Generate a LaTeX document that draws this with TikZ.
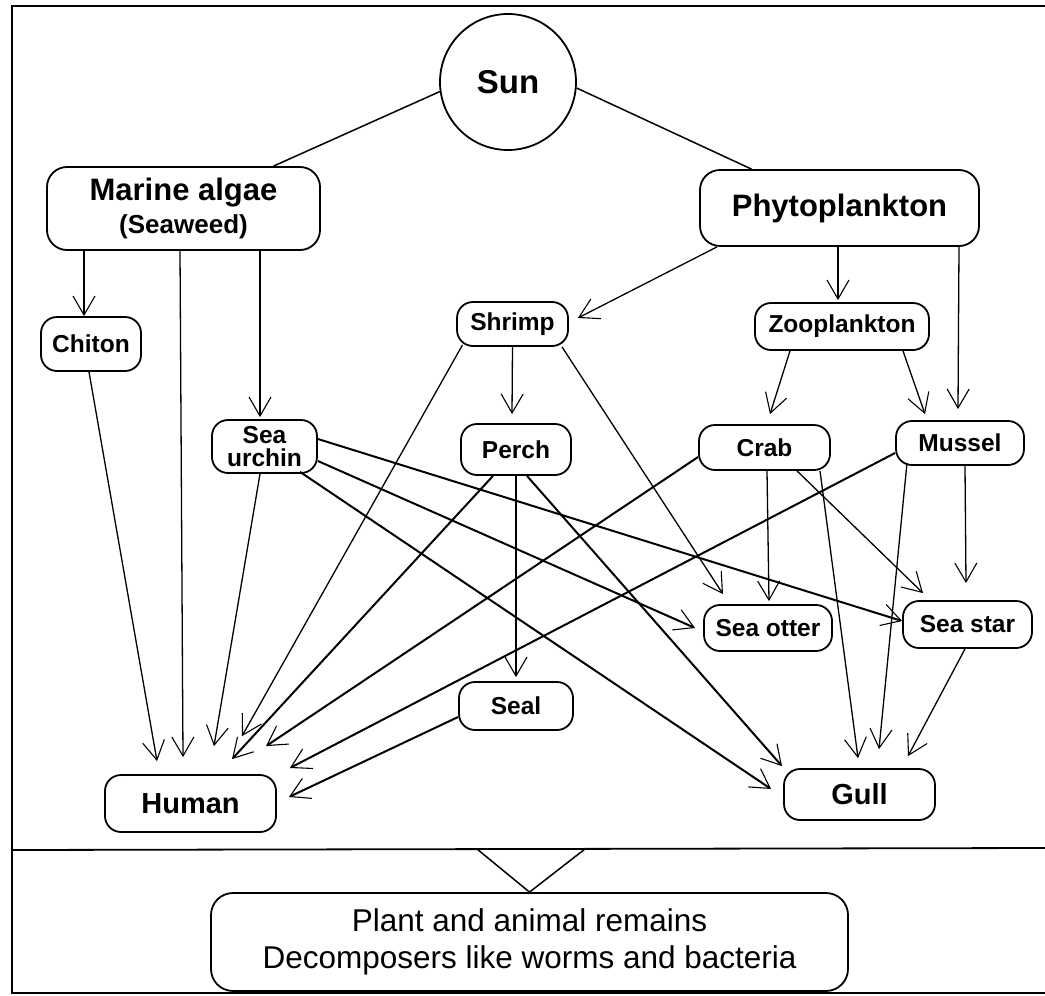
\documentclass[tikz,border=0pt]{standalone}
\usepackage{fontspec}
\setmainfont{Liberation Sans}
\usetikzlibrary{arrows.meta}

\tikzset{
  being/.style={rectangle, rounded corners=16pt, draw=black, line width=1.8pt, inner sep=0pt, align=center, font=\bfseries\fontsize{24.5}{21}\selectfont},
  feed/.style={->, line width=1.3pt},
  feedbold/.style={->, line width=2pt},
}

\begin{document}
\begin{tikzpicture}[x=1pt, y=-1pt, >={Straight Barb[length=19pt, width=22pt, line width=1.1pt]}]
\useasboundingbox (0,0) rectangle (1045,996);

\draw[line width=1.8pt] (1045,6) -- (12,6) -- (12,993) -- (1045,993);
\draw[line width=1.8pt] (12,850) -- (1045,848);

\node[circle, draw=black, line width=1.8pt, minimum size=136pt, inner sep=0pt, font=\bfseries\fontsize{33}{36}\selectfont] (sun) at (508,82) {Sun};
\node[being, rounded corners=20pt, minimum width=273pt, minimum height=83pt, font=\bfseries\fontsize{31}{33}\selectfont] (algae) at (183.5,208.5) {Marine algae\\{\fontsize{26}{33}\selectfont (Seaweed)}};
\node[being, rounded corners=20pt, minimum width=279pt, minimum height=76pt, font=\bfseries\fontsize{31}{34}\selectfont] (phyto) at (839.5,208) {Phytoplankton};

\node[being, minimum width=100pt, minimum height=54pt] (chiton) at (91,344) {Chiton};
\node[being, minimum width=111pt, minimum height=44pt] (shrimp) at (512.5,324) {Shrimp};
\node[being, minimum width=174pt, minimum height=47pt] (zoopl) at (842,326.5) {Zooplankton};
\node[being, minimum width=105pt, minimum height=53pt, font=\bfseries\fontsize{24.5}{23}\selectfont] (urchin) at (264.5,446.5) {Sea\\urchin};
\node[being, minimum width=110pt, minimum height=51pt] (perch) at (516,449.5) {Perch};
\node[being, minimum width=131pt, minimum height=45pt] (crab) at (764.5,447.5) {Crab};
\node[being, minimum width=128pt, minimum height=44pt] (mussel) at (960,443) {Mussel};
\node[being, minimum width=128pt, minimum height=46pt] (otter) at (768,628) {Sea otter};
\node[being, minimum width=129pt, minimum height=47pt] (seastar) at (967.5,624.5) {Sea star};
\node[being, minimum width=114pt, minimum height=48pt] (seal) at (516,706) {Seal};
\node[being, minimum width=171pt, minimum height=57pt, font=\bfseries\fontsize{29}{32}\selectfont] (human) at (190.5,803.5) {Human};
\node[being, minimum width=151pt, minimum height=51pt, font=\bfseries\fontsize{29}{32}\selectfont] (gull) at (859.5,794.5) {Gull};
\node[being, rounded corners=22pt, minimum width=637pt, minimum height=98pt, font=\fontsize{31.5}{37}\selectfont] (decomp) at (529.5,942) {Plant and animal remains\\Decomposers like worms and bacteria};

\draw[line width=1.5pt] (sun.188) -- ([xshift=90pt]algae.north);
\draw[line width=1.5pt] (sun.355) -- ([xshift=-88pt]phyto.north);

\draw[feed] ([xshift=-99.5pt]algae.south) -- ([xshift=-7pt]chiton.north);
\draw[feed] ([xshift=-3.5pt]algae.south) -- ([xshift=-7.5pt,yshift=17pt]human.north);
\draw[feed] ([xshift=76.5pt]algae.south) -- ([xshift=-4.5pt,yshift=2pt]urchin.north);

\draw[feed] ([xshift=-122.5pt]phyto.south) -- ([xshift=9pt,yshift=6pt]shrimp.east);
\draw[feed] ([xshift=-1.5pt]phyto.south) -- ([xshift=-4pt,yshift=2pt]zoopl.north);
\draw[feed] ([xshift=119.5pt]phyto.south) -- ([xshift=-2pt,yshift=11pt]mussel.north);

\draw[feed] ([xshift=-2pt]chiton.south) -- ([xshift=-33.5pt,yshift=13pt]human.north);

\draw[feed] (shrimp.south) -- ([xshift=-4pt,yshift=9pt]perch.north);
\draw[feed] ([xshift=-50pt,yshift=2pt]shrimp.south) -- ([xshift=51.5pt,yshift=38pt]human.north);
\draw[feed] ([xshift=49.5pt]shrimp.south) -- ([xshift=-45pt,yshift=10pt]otter.north);

\draw[feed] ([xshift=-52pt]zoopl.south) -- ([xshift=5.5pt,yshift=10pt]crab.north);
\draw[feed] ([xshift=61pt]zoopl.south) -- ([xshift=-35pt,yshift=6pt]mussel.north);

\draw[feed] ([xshift=-4.5pt]urchin.south) -- ([xshift=23.5pt,yshift=28pt]human.north);
\draw[feedbold] ([xshift=35.5pt,yshift=2pt]urchin.south) -- ([xshift=-12pt,yshift=5.5pt]gull.west);
\draw[feedbold] ([yshift=-14.5pt]urchin.east) -- ([xshift=-8pt]otter.west);
\draw[feedbold] ([yshift=7.5pt]urchin.east) -- ([yshift=3.5pt]seastar.west);

\draw[feedbold] ([xshift=-23pt]perch.south) -- ([xshift=41.5pt,yshift=15pt]human.north);
\draw[feed] (perch.south) -- ([yshift=4pt]seal.north);
\draw[feedbold] ([xshift=11pt]perch.south) -- ([xshift=-77.5pt,yshift=2pt]gull.north);

\draw[feedbold] ([yshift=-9.5pt]crab.west) -- ([xshift=75.5pt,yshift=28pt]human.north);
\draw[feed] ([xshift=2.5pt]crab.south) -- ([xshift=1pt,yshift=3pt]otter.north);
\draw[feed] ([xshift=32.5pt]crab.south) -- ([xshift=-44.5pt,yshift=7pt]seastar.north);
\draw[feed] ([xshift=55.5pt]crab.south) -- ([xshift=-1.5pt,yshift=10pt]gull.north);

\draw[feedbold] ([yshift=-10pt]mussel.west) -- ([xshift=13pt,yshift=35.5pt]human.east);
\draw[feed] ([xshift=-53pt,yshift=3pt]mussel.south) -- ([xshift=19.5pt,yshift=19pt]gull.north);
\draw[feed] ([xshift=5pt]mussel.south) -- ([xshift=-1.5pt,yshift=17pt]seastar.north);

\draw[feed] ([xshift=-2.5pt]seastar.south) -- ([xshift=48.5pt,yshift=12pt]gull.north);
\draw[feedbold] ([yshift=-11pt]seal.west) -- ([xshift=12pt,yshift=6.5pt]human.east);

\coordinate (vleft) at (477,849);
\coordinate (vright) at (585,849);
\draw[line width=1.5pt] (vleft) -- (decomp.north) -- (vright);
\end{tikzpicture}
\end{document}
